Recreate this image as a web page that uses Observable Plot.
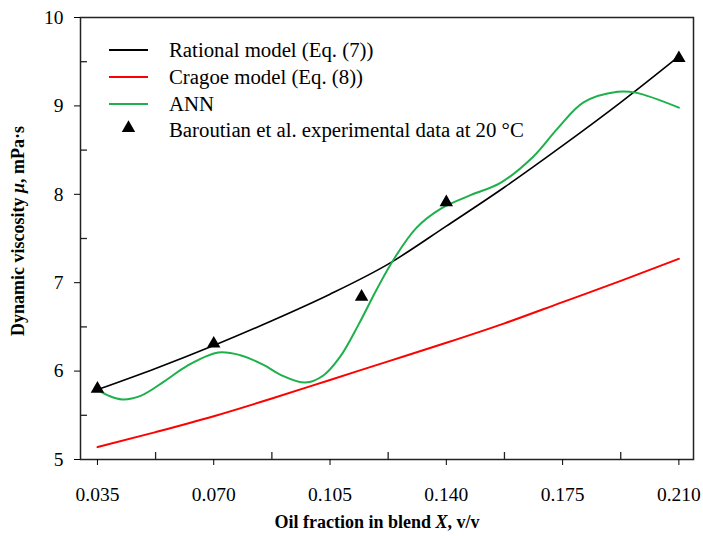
<!DOCTYPE html>
<html><head><meta charset="utf-8">
<script src="https://cdn.jsdelivr.net/npm/d3@7"></script>
<script src="https://cdn.jsdelivr.net/npm/@observablehq/plot@0.6"></script>
<style>body{margin:0;background:#fff} #chart{position:relative;width:703px;height:536px}</style>
</head><body><div id="chart"></div>
<script>
// Tick values
const xTicks = [0.035, 0.070, 0.105, 0.140, 0.175, 0.210];
const xMinor = [0.0525, 0.0875, 0.1225, 0.1575, 0.1925];
const yTicks = [5, 6, 7, 8, 9, 10];
const yMinor = [5.5, 6.5, 7.5, 8.5, 9.5];

// Rational model (Eq. (7))
const rationalX = [0.035, 0.0525, 0.070, 0.0875, 0.105, 0.1225, 0.140, 0.1575, 0.175, 0.1925, 0.210];
const rationalY = [5.79, 6.03, 6.29, 6.57, 6.87, 7.21, 7.64, 8.08, 8.55, 9.04, 9.56];
// Cragoe model (Eq. (8))
const cragoeX = [0.035, 0.0525, 0.070, 0.0875, 0.105, 0.1225, 0.140, 0.1575, 0.175, 0.1925, 0.210];
const cragoeY = [5.14, 5.31, 5.49, 5.69, 5.90, 6.11, 6.32, 6.54, 6.78, 7.02, 7.27];
// ANN
const annX = [0.035, 0.0385, 0.0425, 0.048, 0.055, 0.062, 0.0714, 0.078, 0.085, 0.090, 0.0976, 0.103, 0.108, 0.1135, 0.119, 0.1241, 0.131, 0.1385, 0.1473, 0.1563, 0.166, 0.1734, 0.1813, 0.1915, 0.197, 0.210];
const annY = [5.79, 5.72, 5.68, 5.72, 5.88, 6.06, 6.21, 6.18, 6.07, 5.96, 5.87, 5.95, 6.16, 6.52, 6.92, 7.26, 7.62, 7.84, 7.99, 8.13, 8.42, 8.74, 9.04, 9.16, 9.15, 8.98];
// Baroutian et al. experimental data at 20 °C
const expX = [0.035, 0.070, 0.1145, 0.140, 0.210];
const expY = [5.80, 6.31, 6.84, 7.91, 9.54];

const legendLabels = ["Rational model (Eq. (7))", "Cragoe model (Eq. (8))", "ANN", "Baroutian et al. experimental data at 20 °C"];
const colors = ["#000000", "#ff0000", "#1db04b", "#000000"];

const zip = (xs, ys) => xs.map((x, i) => ({x, y: ys[i]}));
const rational = zip(rationalX, rationalY);
const cragoe = zip(cragoeX, cragoeY);
const ann = zip(annX, annY);
const exp = zip(expX, expY);

const font = "'Liberation Serif', 'Times New Roman', serif";
const W = 703, H = 536, ML = 80, MR = 10, MT = 17, MB = 77;
const innerW = W - ML - MR, innerH = H - MT - MB;

const svg = Plot.plot({
  width: W, height: H,
  marginLeft: ML, marginRight: MR, marginTop: MT, marginBottom: MB,
  style: {fontFamily: font, fontSize: "19px", color: "#000", background: "#fff"},
  x: {domain: [0.0299, 0.2144]},
  y: {domain: [5, 10]},
  marks: [
    Plot.line(cragoe, {x: "x", y: "y", stroke: colors[1], strokeWidth: 2, curve: "monotone-x"}),
    Plot.line(rational, {x: "x", y: "y", stroke: colors[0], strokeWidth: 1.6, curve: "monotone-x"}),
    Plot.line(ann, {x: "x", y: "y", stroke: colors[2], strokeWidth: 2, curve: "catmull-rom"}),
    Plot.dot(exp, {x: "x", y: "y", symbol: "triangle", r: 5, fill: "#000", stroke: "none"}),
    Plot.frame({stroke: "#222", strokeWidth: 1.5}),
    Plot.axisX(xTicks, {anchor: "bottom", tickSize: 6, tickPadding: 22, tickFormat: d => d.toFixed(3), label: null, fontSize: 19.5}),
    Plot.tickX(xMinor, {x: d => d, insetTop: innerH - 7, stroke: "#222", strokeWidth: 1.3}),
    Plot.axisY(yTicks, {anchor: "left", tickSize: 6, tickPadding: 11, tickFormat: d => String(d), label: null, fontSize: 19.5}),
    Plot.tickY(yMinor, {y: d => d, insetRight: innerW - 7, stroke: "#222", strokeWidth: 1.3})
  ]
});
document.getElementById("chart").appendChild(svg);

const s = d3.select(svg);
// Axis titles
const xt = s.append("text").attr("x", 377).attr("y", 528).attr("text-anchor", "middle")
  .style("font-family", font).style("font-size", "18px").style("font-weight", "bold");
xt.append("tspan").text("Oil fraction in blend ");
xt.append("tspan").style("font-style", "italic").text("X");
xt.append("tspan").text(", v/v");

const yt = s.append("text").attr("transform", "translate(24,231) rotate(-90)").attr("text-anchor", "middle")
  .style("font-family", font).style("font-size", "18px").style("font-weight", "bold");
yt.append("tspan").text("Dynamic viscosity ");
yt.append("tspan").style("font-style", "italic").text("μ");
yt.append("tspan").text(", mPa·s");

// Legend
const lg = s.append("g");
const rowsY = [50, 77, 104, 130];
legendLabels.forEach((lab, i) => {
  const yy = rowsY[i];
  if (i < 3) {
    lg.append("line").attr("x1", 109).attr("x2", 148).attr("y1", yy).attr("y2", yy)
      .attr("stroke", colors[i]).attr("stroke-width", 2);
  } else {
    lg.append("path").attr("d", d3.symbol(d3.symbolTriangle, 25 * Math.PI)())
      .attr("transform", `translate(128.5,${yy - 2})`).attr("fill", "#000");
  }
  lg.append("text").attr("x", 169).attr("y", yy).attr("dy", "0.35em").attr("text-anchor", "start")
    .style("font-family", font).style("font-size", "20.8px").text(lab);
});
</script>
</body></html>
